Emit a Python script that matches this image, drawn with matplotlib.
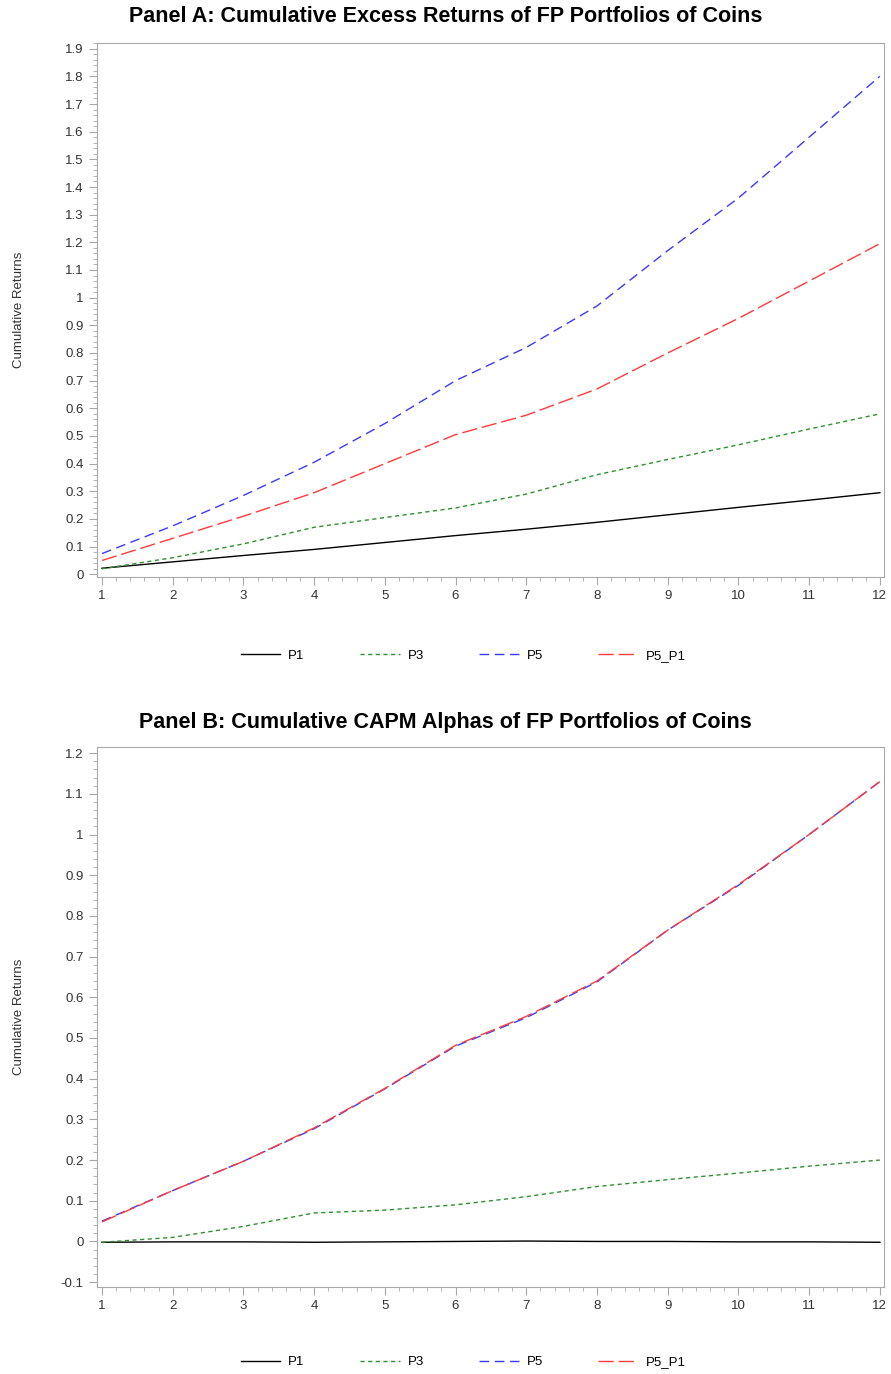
import matplotlib
matplotlib.use("Agg")
import matplotlib.pyplot as plt
from matplotlib.ticker import MultipleLocator, AutoMinorLocator

plt.rcParams['font.family'] = ['Liberation Sans', 'DejaVu Sans']

# horizon (months)
months = [1, 2, 3, 4, 5, 6, 7, 8, 9, 10, 11, 12]

# Panel A: cumulative excess returns
a_p1 = [0.022, 0.045, 0.068, 0.090, 0.115, 0.140, 0.163, 0.188, 0.215, 0.242, 0.268, 0.295]
a_p3 = [0.020, 0.060, 0.110, 0.170, 0.205, 0.240, 0.290, 0.360, 0.415, 0.468, 0.525, 0.580]
a_p5 = [0.075, 0.175, 0.285, 0.405, 0.545, 0.700, 0.820, 0.970, 1.170, 1.360, 1.580, 1.800]
a_p5p1 = [0.050, 0.130, 0.210, 0.295, 0.400, 0.505, 0.575, 0.670, 0.800, 0.925, 1.060, 1.195]

# Panel B: cumulative CAPM alphas
b_p1 = [-0.002, -0.001, -0.001, -0.002, -0.001, 0.000, 0.001, 0.000, 0.000, -0.001, -0.001, -0.002]
b_p3 = [-0.002, 0.010, 0.037, 0.070, 0.077, 0.090, 0.110, 0.135, 0.152, 0.168, 0.185, 0.200]
b_p5 = [0.050, 0.125, 0.197, 0.277, 0.375, 0.480, 0.550, 0.638, 0.765, 0.875, 1.000, 1.130]
b_p5p1 = [0.048, 0.125, 0.197, 0.279, 0.376, 0.482, 0.553, 0.640, 0.765, 0.877, 1.000, 1.130]

labels = ['P1', 'P3', 'P5', 'P5_P1']
colors = ['#000000', '#2f8f2f', '#3a3aff', '#ff3a3a']
dashes = [None, (3, 2.5), (7, 4), (11, 3.5)]

fig = plt.figure(figsize=(8.91, 13.74), dpi=100)

panels = [
    ("Panel A: Cumulative Excess Returns of FP Portfolios of Coins",
     [a_p1, a_p3, a_p5, a_p5p1], [0.1089, 0.580, 0.8833, 0.3886], (-0.01, 1.92), 0.5226, 0.988),
    ("Panel B: Cumulative CAPM Alphas of FP Portfolios of Coins",
     [b_p1, b_p3, b_p5, b_p5p1], [0.1089, 0.0633, 0.8833, 0.393], (-0.112, 1.215), 0.0087, 0.474),
]

for title, series, pos, ylim, legy, titley in panels:
    ax = fig.add_axes(pos)
    lines = []
    for vals, lab, col, ds in zip(series, labels, colors, dashes):
        ln, = ax.plot(months, vals, color=col, lw=1.0, label=lab)
        if ds is not None:
            ln.set_dashes(ds)
        lines.append(ln)
    ax.set_xlim(0.93, 12.06)
    ax.set_ylim(*ylim)
    ax.xaxis.set_major_locator(MultipleLocator(1))
    ax.xaxis.set_minor_locator(AutoMinorLocator(5))
    ax.yaxis.set_major_locator(MultipleLocator(0.1))
    ax.yaxis.set_minor_locator(AutoMinorLocator(5))
    ax.yaxis.set_major_formatter(plt.FuncFormatter(lambda v, p: ('%g' % round(v, 1))))
    for s in ax.spines.values():
        s.set_color('#a8a8a8')
    ax.tick_params(which='both', direction='out', color='#a8a8a8', labelcolor='#333333', labelsize=9.5)
    ax.tick_params(which='major', length=6)
    ax.tick_params(which='minor', length=3)
    ax.set_ylabel('Cumulative Returns', fontsize=9.5, color='#333333')
    ax.yaxis.set_label_coords(-0.092, 0.5)
    fig.text(0.5, titley, title, ha='center', va='center', fontsize=15.5, fontweight='bold')
    fig.legend(lines, labels, loc='center', bbox_to_anchor=(0.52, legy), ncol=4, frameon=False,
               fontsize=9.5, handlelength=3.0, columnspacing=4.2, handletextpad=0.6)

fig.savefig('out.png', dpi=100)
